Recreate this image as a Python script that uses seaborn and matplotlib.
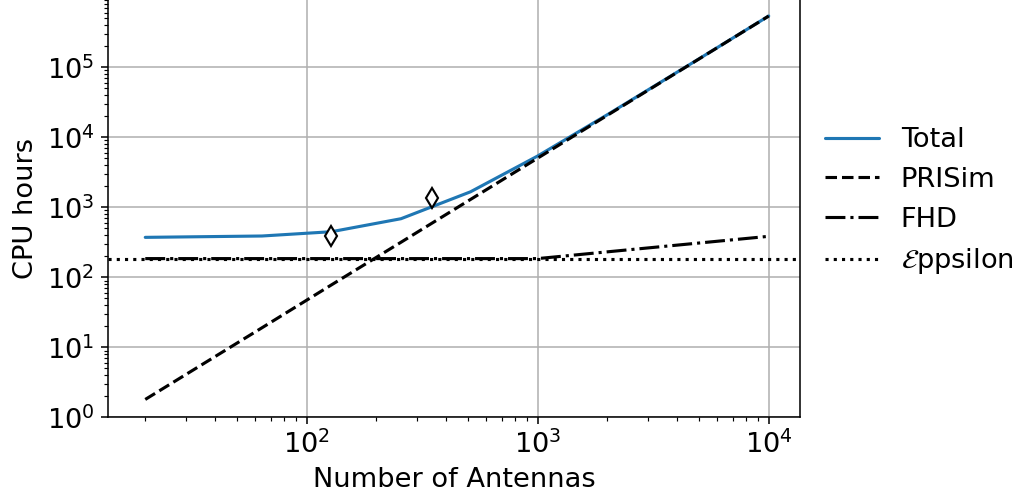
import numpy as np
import pandas as pd
import matplotlib
matplotlib.use("Agg")
import matplotlib.pyplot as plt
import seaborn as sns

# Number of antennas at which the compute cost was evaluated
n_antennas = [20, 64, 128, 256, 512, 1000, 2000, 5000, 10000]

# CPU hours per pipeline component
prisim_hours = [1.8, 19, 78, 317, 1296, 5040, 20570, 132000, 540000]
fhd_hours = [185, 185, 185, 185, 185, 185, 231, 309, 385]
eppsilon_hours = 185
total_hours = [372, 389, 448, 687, 1666, 5410, 20990, 132500, 540570]

# Measured runs
measured_n = [128, 350]
measured_hours = [390, 1345]

sns.set_style("ticks")
plt.rcParams.update({
    "font.family": ["DejaVu Sans"],
    "font.size": 14,
    "axes.labelsize": 14,
    "xtick.labelsize": 14,
    "ytick.labelsize": 14,
    "legend.fontsize": 14,
    "text.color": "black",
    "axes.labelcolor": "black",
    "axes.edgecolor": "black",
    "axes.linewidth": 0.8,
    "xtick.color": "black",
    "ytick.color": "black",
    "xtick.major.size": 3.5,
    "ytick.major.size": 3.5,
    "xtick.minor.size": 2,
    "ytick.minor.size": 2,
    "xtick.major.width": 0.8,
    "ytick.major.width": 0.8,
    "xtick.minor.width": 0.6,
    "ytick.minor.width": 0.6,
    "grid.color": "#b0b0b0",
    "grid.linewidth": 0.8,
    "mathtext.fontset": "dejavusans",
})

df = pd.DataFrame({
    "N": n_antennas,
    "Total": total_hours,
    "PRISim": prisim_hours,
    "FHD": fhd_hours,
})

fig = plt.figure(figsize=(1025 / 140, 504 / 140), dpi=140)
ax = fig.add_axes([0.1054, 0.172, 0.6751, 0.8303])
ax.set_xscale("log")
ax.set_yscale("log")

sns.lineplot(data=df, x="N", y="Total", ax=ax, color="#1f77b4", lw=1.6,
             label="Total")
sns.lineplot(data=df, x="N", y="PRISim", ax=ax, color="black", lw=1.6,
             linestyle="--", label="PRISim")
sns.lineplot(data=df, x="N", y="FHD", ax=ax, color="black", lw=1.6,
             linestyle="-.", label="FHD")
ax.axhline(eppsilon_hours, color="black", lw=1.6, linestyle=":",
           label=r"$\mathcal{E}$ppsilon")
ax.plot(measured_n, measured_hours, linestyle="none", marker="d",
        markersize=7.5, markerfacecolor="white", markeredgecolor="black",
        markeredgewidth=1.1, zorder=5)

ax.set_xlim(13.8, 13660)
ax.set_ylim(1, 9.5e5)
ax.grid(True, which="major")
ax.set_xlabel("Number of Antennas")
ax.set_ylabel("CPU hours")
for s in ax.spines.values():
    s.set_visible(True)

ax.legend(loc="center left", bbox_to_anchor=(1.0, 0.515), frameon=False)

fig.savefig("out.png", dpi=140)
